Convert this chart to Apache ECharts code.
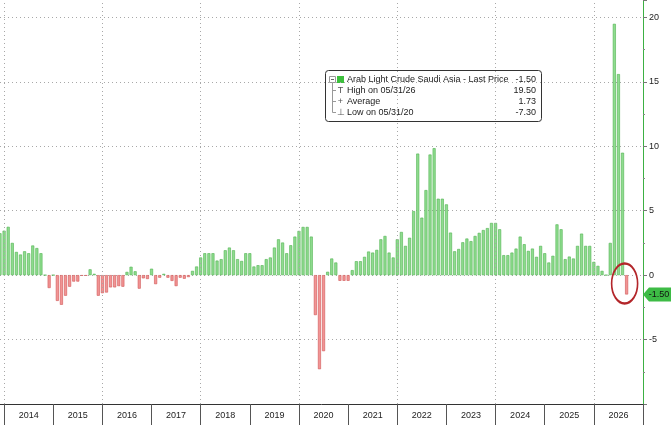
<!DOCTYPE html>
<html>
<head>
<meta charset="utf-8">
<script src="https://cdn.jsdelivr.net/npm/echarts@6/dist/echarts.min.js"></script>
<style>
  html, body { margin: 0; padding: 0; background: #fff; }
  #chart { width: 671px; height: 425px; }
</style>
</head>
<body>
<div id="chart"></div>
<script>
// month-end bars, first one is end of Nov 2013, last one end of Aug 2026
// x unit = months after 1 Jan 2014
const firstMonthEnd = -1;
const values = [
  3.25, 3.45,                                                        // 2013 Nov-Dec
  3.75, 2.5, 1.8, 1.6, 1.85, 1.7, 2.3, 2.1, 1.7, 0, -1.0, 0,        // 2014
  -2.0, -2.3, -1.6, -0.9, -0.5, -0.5, -0.05, -0.05, 0.45, 0.1, -1.6, -1.4, // 2015
  -1.35, -0.95, -0.95, -0.85, -0.9, 0.25, 0.65, 0.3, -1.05, -0.25, -0.3, 0.5, // 2016
  -0.7, -0.2, 0.1, -0.2, -0.45, -0.85, -0.2, -0.28, -0.15, 0.33, 0.67, 1.37, // 2017
  1.7, 1.7, 1.7, 1.13, 1.24, 1.93, 2.14, 1.93, 1.24, 1.1, 1.7, 1.7,  // 2018
  0.67, 0.77, 0.77, 1.24, 1.37, 2.14, 2.78, 2.53, 1.7, 2.32, 2.99, 3.43, // 2019
  3.74, 3.74, 2.99, -3.1, -7.3, -5.9, 0.26, 1.29, 0.98, -0.44, -0.44, -0.44, // 2020
  0.39, 1.08, 1.08, 1.42, 1.83, 1.75, 1.96, 2.78, 3.04, 1.75, 1.37, 2.78, // 2021
  3.35, 2.27, 2.9, 4.97, 9.43, 4.46, 6.6, 9.36, 9.85, 5.93, 5.93, 5.49, // 2022
  3.3, 1.85, 2.03, 2.55, 2.84, 2.64, 3.04, 3.28, 3.5, 3.65, 4.05, 4.05, // 2023
  3.56, 1.55, 1.55, 1.75, 2.06, 2.99, 2.4, 1.88, 2.06, 1.42, 2.27, 1.7, // 2024
  0.98, 1.5, 3.94, 3.56, 1.24, 1.44, 1.29, 2.27, 3.22, 2.27, 2.27, 1.03, // 2025
  0.72, 0.33, 0, 2.5, 19.5, 15.6, 9.5, -1.5                         // 2026
];
const years = ['2014', '2015', '2016', '2017', '2018', '2019', '2020',
               '2021', '2022', '2023', '2024', '2025', '2026'];
const lastPriceLabel = '-1.50';
const legendRows = [
  ['Arab Light Crude Saudi Asia - Last Price', '-1.50'],
  ['High on 05/31/26', '19.50'],
  ['Average', '1.73'],
  ['Low on 05/31/20', '-7.30']
];

const font = 'Liberation Sans';
const upColor = '#8fdc8f', upBorder = '#4fb24f';
const downColor = '#f29494', downBorder = '#d05656';

const barData = values.map((v, i) => ({
  value: [firstMonthEnd + i, v],
  itemStyle: v >= 0
    ? { color: upColor, borderColor: upBorder }
    : { color: downColor, borderColor: downBorder }
}));
const lastX = firstMonthEnd + values.length - 1;
const lastV = values[values.length - 1];

const yearBounds = years.map((y, i) => i * 12).concat([years.length * 12]);
const yearMids = years.map((y, i) => i * 12 + 6);
const gridYears = yearBounds.filter((x, i) => i % 2 === 0 && x < years.length * 12);

const chart = echarts.init(document.getElementById('chart'));

const legendChildren = [
  { type: 'rect', shape: { x: 0.5, y: 0.5, width: 216, height: 51, r: 3 },
    style: { fill: '#fff', stroke: '#333', lineWidth: 1 } },
  // tree lines
  { type: 'line', shape: { x1: 7.5, y1: 12, x2: 7.5, y2: 42.5 }, style: { stroke: '#999', lineWidth: 1 } },
  { type: 'rect', shape: { x: 4.5, y: 6.5, width: 6, height: 6 }, style: { fill: '#fff', stroke: '#999', lineWidth: 1 } },
  { type: 'line', shape: { x1: 6, y1: 9.5, x2: 9, y2: 9.5 }, style: { stroke: '#666', lineWidth: 1 } },
  { type: 'rect', shape: { x: 12, y: 6, width: 7, height: 7 }, style: { fill: '#3cbf3c' } }
];
[1, 2, 3].forEach(i => {
  const y = 9.5 + i * 11;
  legendChildren.push({ type: 'line', shape: { x1: 7.5, y1: y, x2: 11, y2: y }, style: { stroke: '#999', lineWidth: 1 } });
});
const rowMarks = ['', 'T', '+', '\u22A5'];
legendRows.forEach((row, i) => {
  const y = 9.5 + i * 11;
  if (rowMarks[i]) {
    legendChildren.push({ type: 'text', style: { text: rowMarks[i], x: 15.5, y: y, fill: '#555',
      fontSize: 9, fontFamily: font, align: 'center', verticalAlign: 'middle' } });
  }
  legendChildren.push({ type: 'text', style: { text: row[0], x: 22, y: y, fill: '#222',
    fontSize: 9, fontFamily: font, verticalAlign: 'middle' } });
  legendChildren.push({ type: 'text', style: { text: row[1], x: 211, y: y, fill: '#222',
    fontSize: 9, fontFamily: font, align: 'right', verticalAlign: 'middle' } });
});

const option = {
  animation: false,
  grid: { left: 0, right: 28, top: 0, bottom: 21, containLabel: false, outerBoundsMode: 'none' },
  xAxis: {
    type: 'value',
    min: -1,
    max: years.length * 12,
    axisLine: { onZero: false, lineStyle: { color: '#333', width: 1 } },
    axisTick: { customValues: yearBounds, length: 21, lineStyle: { color: '#555' } },
    axisLabel: {
      customValues: yearMids,
      formatter: v => years[(v - 6) / 12],
      margin: 7, fontSize: 9, color: '#222', fontFamily: font
    },
    splitLine: { show: false }
  },
  yAxis: {
    type: 'value',
    position: 'right',
    min: -10,
    max: 21.35,
    interval: 5,
    axisLine: { show: true, onZero: false, lineStyle: { color: '#3cb043', width: 1 } },
    axisTick: { show: true, length: 4, lineStyle: { color: '#777' } },
    minorTick: { show: true, splitNumber: 2, length: 2, lineStyle: { color: '#888' } },
    axisLabel: {
      formatter: v => (v % 5 === 0 && v > -10) ? String(v) : '',
      margin: 6, fontSize: 9, color: '#222', fontFamily: font
    },
    splitLine: { show: true, showMinLine: false, showMaxLine: false,
      lineStyle: { color: '#a8a8a8', type: [1, 3], width: 1 } }
  },
  series: [{
    type: 'bar',
    data: barData,
    barWidth: 3,
    clip: true,
    itemStyle: { borderWidth: 0.6 },
    markLine: {
      silent: true,
      symbol: 'none',
      label: { show: false },
      lineStyle: { color: '#a8a8a8', type: [1, 3], width: 1 },
      data: gridYears.map(x => ({ xAxis: x }))
    },
    markPoint: {
      silent: true,
      data: [
        {
          coord: [years.length * 12, lastV],
          symbol: 'path://M0,7 L6,0 L28,0 L28,14 L6,14 Z',
          symbolSize: [28, 14],
          symbolOffset: [14, 0],
          itemStyle: { color: '#3dbb45' },
          label: { show: true, position: 'inside', formatter: lastPriceLabel,
            color: '#111', fontSize: 9, fontFamily: font, offset: [2, 0] }
        },
        {
          coord: [lastX, lastV],
          symbol: 'path://M13,0 A13,20 0 1,1 13,40 A13,20 0 1,1 13,0 Z',
          symbolSize: [26, 40],
          symbolOffset: [-2, -11],
          itemStyle: { color: 'transparent', borderColor: '#b3262a', borderWidth: 2 },
          label: { show: false }
        }
      ]
    }
  }],
  graphic: [{ type: 'group', left: 325, top: 70, children: legendChildren }]
};

chart.setOption(option);
</script>
</body>
</html>
